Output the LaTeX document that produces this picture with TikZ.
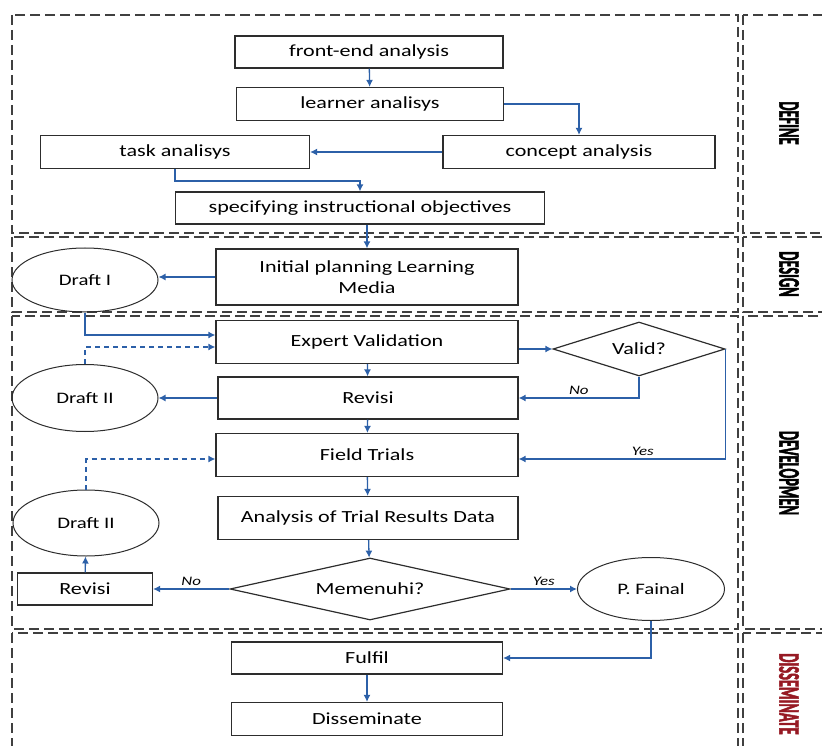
\documentclass[tikz,border=0pt]{standalone}
\usepackage{fontspec}
\setmainfont{Carlito}
\newfontfamily\boxfont[FakeStretch=1.3]{Carlito}
\newfontfamily\phasefont[FakeStretch=0.48,FakeBold=1.5]{Carlito}
\usetikzlibrary{arrows.meta,shapes.geometric}
\definecolor{flowblue}{RGB}{44,96,168}
\definecolor{phasered}{RGB}{150,25,35}
\definecolor{edgegray}{RGB}{45,45,45}

\begin{document}
\begin{tikzpicture}[x=1pt, y=-1pt,
  box/.style={draw=edgegray, line width=1.2pt, inner sep=2pt, align=center,
    font=\boxfont\fontsize{17}{21}\selectfont},
  draft/.style={draw=edgegray, line width=1pt, ellipse, inner sep=0pt,
    minimum width=146, minimum height=64, font=\boxfont\fontsize{16}{19}\selectfont},
  decision/.style={draw=edgegray, line width=1.2pt, diamond, inner sep=0pt,
    font=\boxfont\fontsize{17}{21}\selectfont},
  flow/.style={draw=flowblue, line width=1.3pt, -{Latex[length=7pt,width=7pt]}},
  dflow/.style={flow, dash pattern=on 5pt off 4pt},
  sect/.style={draw=black!75, line width=1.3pt, dash pattern=on 10pt off 5pt},
  phase/.style={rotate=-90, font=\phasefont\bfseries\fontsize{30}{32}\selectfont},
  answer/.style={font=\boxfont\itshape\fontsize{13}{15}\selectfont, inner sep=3pt},
]
  \clip (0,0) rectangle (822,746);

  % Phasen-Rahmen
  \draw[sect] (12,15) rectangle (738,233);
  \draw[sect] (12,237) rectangle (738,312);
  \draw[sect] (12,316) rectangle (738,629);
  \draw[sect] (12,633) rectangle (738,770);
  \draw[sect] (743,15) rectangle (850,233);
  \draw[sect] (743,237) rectangle (850,312);
  \draw[sect] (743,316) rectangle (850,629);
  \draw[sect] (743,633) rectangle (850,770);
  \node[phase] (define) at (789,123) {DEFINE};
  \node[phase] (design) at (789,274) {DESIGN};
  \node[phase] (develop) at (789,473) {DEVELOPMEN};
  \node[phase, text=phasered] (dissemtitle) at (789,694) {DISSEMINATE};

  % Define
  \node[box, minimum width=268, minimum height=32] (front) at (369,52) {front-end analysis};
  \node[box, minimum width=267, minimum height=33] (learner) at (370,104) {learner analisys};
  \node[box, minimum width=269, minimum height=33] (task) at (175,152) {task analisys};
  \node[box, minimum width=272, minimum height=33] (concept) at (579,152) {concept analysis};
  \node[box, minimum width=369, minimum height=32] (spec) at (360,208) {specifying instructional objectives};
  \draw[flow] (front) -- (learner);
  \draw[flow] (learner.east) -| (concept.north);
  \draw[flow] (concept) -- (task);
  \draw[flow] (task.south) -- ++(0,12) -| (spec.north);

  % Design
  \node[box, minimum width=302, minimum height=56] (init) at (367,277) {Initial planning Learning\\Media};
  \node[draft] (draft1) at (85,280) {Draft I};
  \draw[flow] (init.north |- spec.south) -- (init.north);
  \draw[flow] (init.west) -- (init.west -| draft1.east);

  % Developmen
  \node[box, minimum width=302, minimum height=43] (expert) at (367,342) {Expert Validation};
  \node[decision, aspect=3.2, minimum width=172, minimum height=54] (valid) at (639,349) {Valid?};
  \node[box, minimum width=300, minimum height=42] (rev1) at (368,398) {Revisi};
  \node[draft, minimum height=67] (draft2a) at (85,398) {Draft II};
  \node[box, minimum width=302, minimum height=43] (field) at (367,455) {Field Trials};
  \node[box, minimum width=300, minimum height=43] (analysis) at (368,518) {Analysis of Trial Results Data};
  \node[draft, minimum height=66] (draft2b) at (86,523) {Draft II};
  \node[decision, aspect=4.5, minimum width=280, minimum height=62] (mem) at (370,589) {Memenuhi?};
  \node[box, minimum width=135, minimum height=32] (rev2) at (85,589) {Revisi};
  \node[draft, minimum width=147, minimum height=63] (final) at (651,589) {P. Fainal};
  \draw[flow] (draft1.south) |- ([yshift=7pt]expert.west);
  \draw[dflow] (draft2a.north) |- ([yshift=-5pt]expert.west);
  \draw[flow] (expert.east |- valid.west) -- (valid.west);
  \draw[flow] (valid.south) |- node[answer, pos=0.75, above] {No} (rev1.east);
  \draw[flow] (valid.east) |- node[answer, pos=0.7, above] {Yes} ([yshift=-4pt]field.east);
  \draw[flow] (expert) -- (rev1);
  \draw[flow] (rev1) -- (draft2a);
  \draw[flow] (rev1) -- (field);
  \draw[dflow] (draft2b.north) |- ([yshift=-4pt]field.west);
  \draw[flow] (field) -- (analysis);
  \draw[flow] (analysis) -- (mem);
  \draw[flow] (mem.west) -- node[answer, above] {No} (rev2.east);
  \draw[flow] (rev2) -- (draft2b);
  \draw[flow] (mem.east) -- node[answer, above] {Yes} (final.west);

  % Disseminate
  \node[box, minimum width=271, minimum height=32] (fulfil) at (367,658) {Fulfil};
  \node[box, minimum width=271, minimum height=33] (dissem) at (367,719) {Disseminate};
  \draw[flow] (final.south) |- (fulfil.east);
  \draw[flow] (fulfil) -- (dissem);
\end{tikzpicture}
\end{document}
